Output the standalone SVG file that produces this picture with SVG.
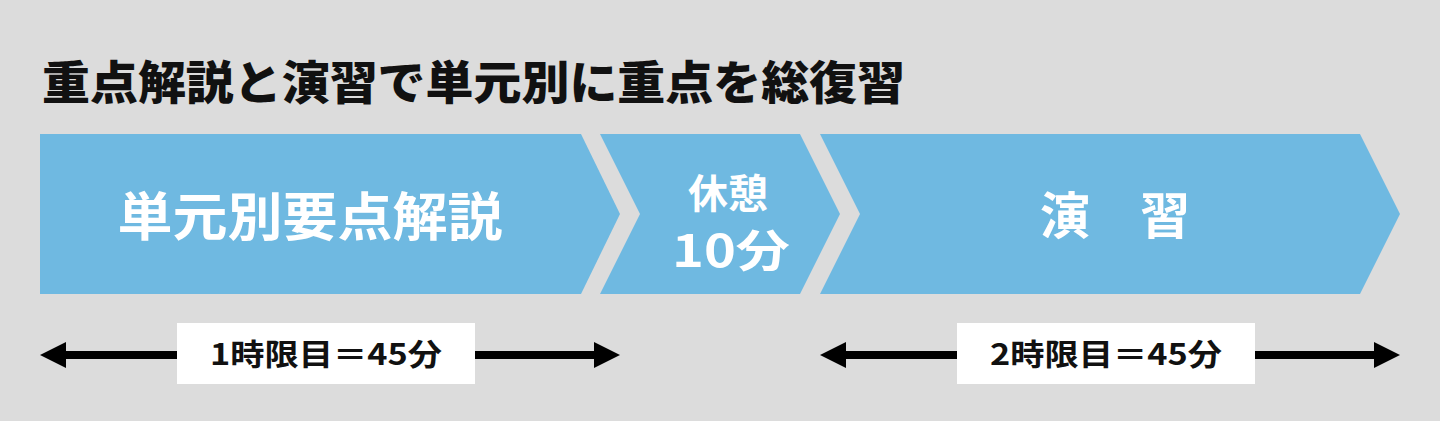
<svg xmlns="http://www.w3.org/2000/svg" width="1440" height="421" viewBox="0 0 1440 421">
<defs>
<style>
.bg{fill:#dcdcdc}
.chev{fill:#6fb9e1}
.w{fill:#ffffff;font-family:"Noto Sans CJK JP","Noto Sans",sans-serif;font-weight:700;text-anchor:middle}
.title{fill:#111111;font-family:"Noto Sans CJK JP","Noto Sans",sans-serif;font-weight:900;font-size:46px}
.lbl{fill:#111111;font-family:"Noto Sans CJK JP","Noto Sans",sans-serif;font-weight:700;font-size:30px;text-anchor:middle}
.box{fill:#ffffff}
.line{stroke:#000000;stroke-width:8;fill:none}
</style>
<marker id="ah" markerWidth="26" markerHeight="26" viewBox="0 0 26 26" refX="14" refY="13" orient="auto-start-reverse" markerUnits="userSpaceOnUse">
<path d="M0,0 L26,13 L0,26 Z" fill="#000000"/>
</marker>
</defs>
<rect class="bg" x="0" y="0" width="1440" height="421"/>
<text class="title" x="42" y="99" textLength="863" lengthAdjust="spacingAndGlyphs">重点解説と演習で単元別に重点を総復習</text>
<g id="node-kaisetsu">
<polygon class="chev" points="40,134 581,134 620,214 581,294 40,294"/>
<text class="w" x="310" y="236" font-size="52" textLength="385" lengthAdjust="spacingAndGlyphs">単元別要点解説</text>
</g>
<g id="node-kyukei">
<polygon class="chev" points="600,134 800,134 840,214 800,294 600,294 640,214"/>
<text class="w" x="728" y="208" font-size="40">休憩</text>
<text class="w" x="731" y="267" font-size="44" textLength="118" lengthAdjust="spacingAndGlyphs">10分</text>
</g>
<g id="node-enshu">
<polygon class="chev" points="820,134 1360,134 1400,214 1360,294 820,294 860,214"/>
<text class="w" x="1115" y="234" font-size="50">演　習</text>
</g>
<g id="connectors">
<line class="line" x1="52" y1="355" x2="608" y2="355" marker-start="url(#ah)" marker-end="url(#ah)"/>
<line class="line" x1="832" y1="355" x2="1388" y2="355" marker-start="url(#ah)" marker-end="url(#ah)"/>
</g>
<g id="label-1">
<rect class="box" x="177" y="323" width="298" height="61"/>
<text class="lbl" x="326" y="365" textLength="232" lengthAdjust="spacingAndGlyphs">1時限目＝45分</text>
</g>
<g id="label-2">
<rect class="box" x="957" y="323" width="298" height="61"/>
<text class="lbl" x="1106" y="365" textLength="232" lengthAdjust="spacingAndGlyphs">2時限目＝45分</text>
</g>
</svg>
